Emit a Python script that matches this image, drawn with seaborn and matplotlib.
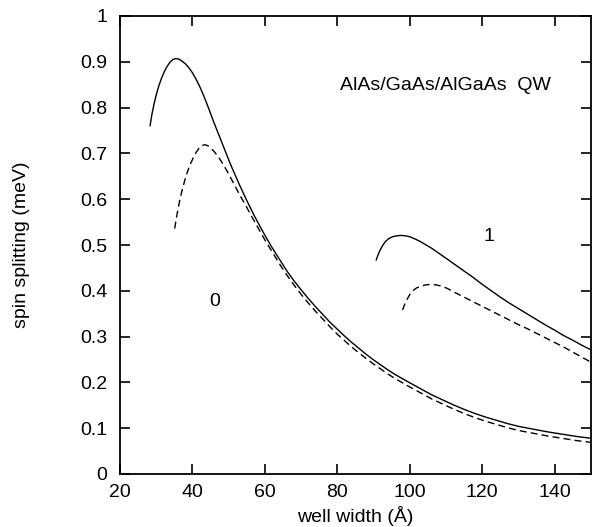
import matplotlib
matplotlib.use("Agg")
import matplotlib.pyplot as plt
import seaborn as sns
import pandas as pd

# Spin splitting vs well width, AlAs/GaAs/AlGaAs quantum well
# ground state (0): solid and dashed curves
w0_solid = [28.3, 28.8, 29.4, 30.0, 30.7, 31.4, 32.2, 33.0, 33.8, 34.6, 35.4, 36.2,
            37.0, 38.0, 39.0, 40.0, 41.0, 42.0, 43.0, 44.0, 45.0, 46.0, 47.0,
            48.0, 49.0, 50.0, 51.0, 52.0, 53.0, 54.0, 55.0, 56.0, 57.0, 58.0, 60.0,
            62.0, 64.0, 66.0, 68.0, 70.0, 72.0, 74.0, 76.0, 78.0, 80.0, 82.0, 84.0,
            86.0, 88.0, 90.0, 92.0, 94.0, 96.0, 98.0, 100.0, 103.0, 106.0, 109.0,
            112.0, 115.0, 118.0, 121.0, 124.0, 127.0, 130.0, 134.0, 138.0, 142.0,
            146.0, 150.0]
s0_solid = [0.760, 0.785, 0.808, 0.828, 0.847, 0.863, 0.878, 0.890, 0.899, 0.905, 0.907, 0.906,
            0.902, 0.896, 0.887, 0.876, 0.862, 0.846, 0.828, 0.808, 0.787, 0.766, 0.746,
            0.726, 0.706, 0.686, 0.667, 0.649, 0.631, 0.614, 0.597, 0.581, 0.565, 0.550, 0.521,
            0.494, 0.469, 0.444, 0.422, 0.402, 0.383, 0.365, 0.348, 0.331, 0.316, 0.301, 0.287,
            0.274, 0.261, 0.249, 0.238, 0.227, 0.217, 0.208, 0.199, 0.186, 0.173, 0.162,
            0.151, 0.141, 0.132, 0.124, 0.117, 0.110, 0.104, 0.098, 0.092, 0.087,
            0.082, 0.078]

w0_dash = [35.1, 35.5, 36.0, 36.5, 37.0, 37.6, 38.2, 38.8, 39.5, 40.2, 41.0, 41.8,
           42.6, 43.4, 44.2, 45.0, 46.0, 47.0, 48.0, 49.0, 50.0, 51.0, 52.0, 53.0,
           54.0, 55.0, 56.0, 57.0, 58.0, 60.0, 62.0, 64.0, 66.0, 68.0, 70.0, 72.0,
           74.0, 76.0, 78.0, 80.0, 82.0, 84.0, 86.0, 88.0, 90.0, 92.0, 94.0, 96.0,
           98.0, 100.0, 103.0, 106.0, 109.0, 112.0, 115.0, 118.0, 121.0, 124.0,
           127.0, 130.0, 134.0, 138.0, 142.0, 146.0, 150.0]
s0_dash = [0.536, 0.556, 0.578, 0.598, 0.615, 0.633, 0.650, 0.664, 0.678, 0.690, 0.702, 0.711,
           0.717, 0.719, 0.717, 0.712, 0.704, 0.694, 0.682, 0.669, 0.655, 0.640, 0.625, 0.610,
           0.596, 0.582, 0.567, 0.553, 0.539, 0.511, 0.485, 0.459, 0.435, 0.413, 0.392, 0.373,
           0.355, 0.338, 0.321, 0.305, 0.291, 0.277, 0.264, 0.252, 0.240, 0.229, 0.218, 0.208,
           0.199, 0.190, 0.177, 0.164, 0.153, 0.142, 0.132, 0.123, 0.115, 0.108,
           0.101, 0.095, 0.089, 0.083, 0.078, 0.073, 0.069]

# first excited state (1)
w1_solid = [90.7, 91.2, 91.8, 92.5, 93.3, 94.2, 95.2, 96.3, 97.5, 98.8, 100.0, 101.5,
            103.0, 104.5, 106.0, 108.0, 110.0, 112.5, 115.0, 117.5, 120.0, 122.5, 125.0,
            127.5, 130.0, 132.5, 135.0, 137.5, 140.0, 142.5, 145.0, 147.5, 150.0]
s1_solid = [0.467, 0.478, 0.489, 0.499, 0.508, 0.514, 0.518, 0.520, 0.521, 0.520, 0.518, 0.513,
            0.507, 0.500, 0.493, 0.482, 0.471, 0.457, 0.443, 0.429, 0.414, 0.400, 0.386,
            0.373, 0.361, 0.349, 0.337, 0.325, 0.314, 0.302, 0.292, 0.281, 0.271]

w1_dash = [98.0, 98.5, 99.2, 100.0, 100.8, 101.8, 103.0, 104.4, 105.8, 107.2, 108.8, 110.4,
           112.0, 114.0, 116.0, 118.0, 120.0, 122.5, 125.0, 127.5, 130.0, 132.5, 135.0,
           137.5, 140.0, 142.5, 145.0, 147.5, 150.0]
s1_dash = [0.358, 0.369, 0.381, 0.392, 0.400, 0.406, 0.410, 0.413, 0.414, 0.413, 0.410, 0.405,
           0.398, 0.390, 0.382, 0.374, 0.366, 0.356, 0.346, 0.336, 0.326, 0.317, 0.307,
           0.297, 0.287, 0.277, 0.266, 0.255, 0.244]

x_ticks = [20, 40, 60, 80, 100, 120, 140]
y_ticks = [0, 0.1, 0.2, 0.3, 0.4, 0.5, 0.6, 0.7, 0.8, 0.9, 1]
y_tick_labels = ["0", "0.1", "0.2", "0.3", "0.4", "0.5", "0.6", "0.7", "0.8", "0.9", "1"]

sns.set_style("ticks")
plt.rcParams["font.family"] = ["Liberation Sans", "DejaVu Sans"]
plt.rcParams["text.color"] = "black"
plt.rcParams["axes.labelcolor"] = "black"
FS = 14

fig = plt.figure(figsize=(5.92, 5.27), dpi=100)
ax = fig.add_axes([120 / 592, 53 / 527, 471 / 592, 458 / 527])

dashes = (0, (5, 3))
curves = [
    (w0_solid, s0_solid, "-"),
    (w0_dash, s0_dash, dashes),
    (w1_solid, s1_solid, "-"),
    (w1_dash, s1_dash, dashes),
]
for xs, ys, ls in curves:
    df = pd.DataFrame({"w": xs, "s": ys})
    sns.lineplot(data=df, x="w", y="s", ax=ax, color="black", linewidth=1.0,
                 linestyle=ls, sort=False, estimator=None)

ax.set_xlim(20, 150)
ax.set_ylim(0, 1)
ax.set_xticks(x_ticks)
ax.set_xticklabels([str(t) for t in x_ticks])
ax.set_yticks(y_ticks)
ax.set_yticklabels(y_tick_labels)

for side in ["left", "right", "top", "bottom"]:
    ax.spines[side].set_visible(True)
    ax.spines[side].set_linewidth(1.3)
    ax.spines[side].set_color("black")

ax.tick_params(direction="in", length=7, width=1.2, top=True, right=True,
               labelsize=FS, colors="black")
ax.tick_params(axis="x", pad=7)
ax.tick_params(axis="y", pad=9)

ax.set_xlabel("well width (Å)", fontsize=FS, color="black")
ax.set_ylabel("spin splitting (meV)", fontsize=FS, color="black")
ax.xaxis.label.set_va("center")
ax.yaxis.label.set_va("center")
ax.xaxis.set_label_coords(0.5, (474 - 516) / 458)
ax.yaxis.set_label_coords((22 - 120) / 471, 0.5)

ax.text(80.6, 0.849, "AlAs/GaAs/AlGaAs  QW", fontsize=FS, va="center", ha="left",
        color="black")
ax.text(46.2, 0.376, "0", fontsize=FS, va="center", ha="center", color="black")
ax.text(121.9, 0.518, "1", fontsize=FS, va="center", ha="center", color="black")

fig.savefig("out.png", dpi=100)
